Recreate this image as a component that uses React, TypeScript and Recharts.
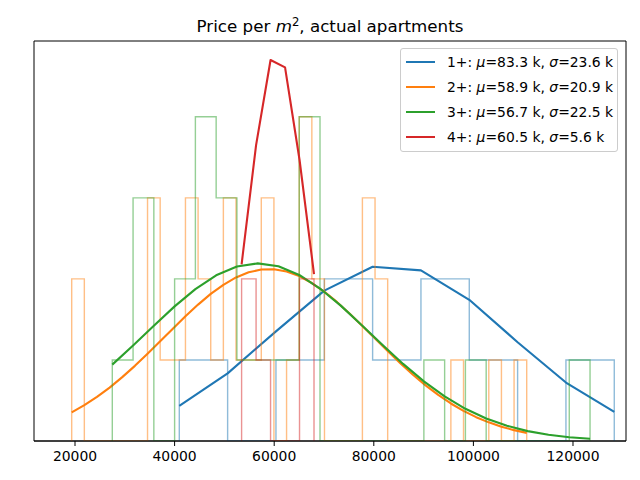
import React from 'react';
import { ComposedChart, Line, XAxis, YAxis, ReferenceArea } from 'recharts';

// x range of the axes (price per m2) and y range (histogram counts)
const X_MIN = 11767;
const X_MAX = 130643;
const Y_MAX = 4.935;
const xTicks = [20000, 40000, 60000, 80000, 100000, 120000];

// 1+ apartments
const blueEdges = [40943, 50648, 60353, 70058, 79763, 89468, 99173, 108878, 118583, 128288];
const blueCounts = [1, 0, 1, 2, 1, 2, 1, 0, 1];
const blueCurve = [0.434, 0.834, 1.353, 1.855, 2.149, 2.105, 1.742, 1.219, 0.721, 0.36];

// 2+ apartments
const orangeEdges = [
  19337, 21875, 24413, 26951, 29489, 32027, 34565, 37103, 39641, 42179, 44717, 47255, 49793,
  52331, 54869, 57407, 59945, 62483, 65021, 67559, 70097, 72635, 75173, 77711, 80249, 82787,
  85325, 87863, 90401, 92939, 95477, 98015, 100553, 103091, 105629, 108167, 110705,
];
const orangeCounts = [
  2, 0, 0, 0, 0, 0, 3, 1, 1, 3, 2, 1, 3, 1, 1, 3, 0, 1, 4, 2, 0, 0, 0, 3, 2, 0, 0, 0, 0, 0, 1, 0,
  0, 1, 0, 1,
];
const orangeCurve = [
  0.354, 0.442, 0.544, 0.659, 0.788, 0.927, 1.076, 1.23, 1.386, 1.539, 1.683, 1.815, 1.927,
  2.018, 2.081, 2.115, 2.119, 2.091, 2.034, 1.949, 1.841, 1.713, 1.571, 1.42, 1.264, 1.109,
  0.959, 0.817, 0.686, 0.568, 0.463, 0.372, 0.294, 0.23, 0.177, 0.134, 0.1,
];

// 3+ apartments
const greenEdges = [
  27489, 31660, 35831, 40002, 44173, 48344, 52515, 56686, 60857, 65028, 69199, 73370, 77541,
  81712, 85883, 90054, 94225, 98396, 102567, 106738, 110909, 115080, 119251, 123422,
];
const greenCounts = [1, 3, 0, 2, 4, 3, 1, 1, 1, 4, 0, 0, 0, 0, 0, 1, 0, 1, 0, 0, 0, 0, 1];
const greenCurve = [
  0.942, 1.178, 1.422, 1.661, 1.874, 2.044, 2.152, 2.191, 2.155, 2.049, 1.881, 1.67, 1.432,
  1.187, 0.951, 0.735, 0.551, 0.397, 0.277, 0.188, 0.122, 0.077, 0.047, 0.028,
];

// 4+ apartments
const redEdges = [53454, 56362, 59270, 62178, 65086, 67994];
const redCounts = [2, 1, 0, 0, 2];
const redCurve = [2.18, 3.65, 4.7, 4.61, 3.47, 2.06];

const groupNames = ['1+', '2+', '3+', '4+'];
const groupMu = ['83.3', '58.9', '56.7', '60.5'];
const groupSigma = ['23.6', '20.9', '22.5', '5.6'];
const colors = ['#1f77b4', '#ff7f0e', '#2ca02c', '#d62728'];

const FONT = '"DejaVu Sans", sans-serif';

// outline of a step histogram (no bottom edge, like histtype="step")
function stepOutline(edges: number[], counts: number[]) {
  const pts = [{ x: edges[0], y: 0 }];
  counts.forEach((c, i) => {
    pts.push({ x: edges[i], y: c });
    pts.push({ x: edges[i + 1], y: c });
  });
  pts.push({ x: edges[edges.length - 1], y: 0 });
  return pts;
}

function curvePoints(edges: number[], values: number[]) {
  return edges.map((x, i) => ({ x, y: values[i] }));
}

const groups = [
  { edges: blueEdges, counts: blueCounts, curve: blueCurve },
  { edges: orangeEdges, counts: orangeCounts, curve: orangeCurve },
  { edges: greenEdges, counts: greenCounts, curve: greenCurve },
  { edges: redEdges, counts: redCounts, curve: redCurve },
];

function ChartLegend() {
  return (
    <div
      style={{
        position: 'absolute',
        left: 400,
        top: 48,
        width: 216,
        padding: '0 0 2px 0',
        border: '1px solid #cccccc',
        borderRadius: 3,
        background: 'rgba(255,255,255,0.8)',
        fontFamily: FONT,
        fontSize: 13.9,
        color: '#000',
      }}
    >
      {groupNames.map((name, i) => (
        <div key={name} style={{ height: 25, display: 'flex', alignItems: 'center' }}>
          <div
            style={{ marginLeft: 5, width: 29, height: 2, background: colors[i], flex: 'none' }}
          />
          <span style={{ marginLeft: 12, whiteSpace: 'nowrap' }}>
            {name}: <i>μ</i>={groupMu[i]} k, <i>σ</i>={groupSigma[i]} k
          </span>
        </div>
      ))}
    </div>
  );
}

export default function App() {
  return (
    <div
      style={{
        position: 'absolute',
        left: 0,
        top: 0,
        width: 640,
        height: 480,
        background: '#fff',
      }}
    >
      <div
        style={{
          position: 'absolute',
          left: 34,
          top: 16,
          width: 592,
          textAlign: 'center',
          fontFamily: FONT,
          fontSize: 16.7,
          lineHeight: '20px',
          color: '#000',
          whiteSpace: 'nowrap',
        }}
      >
        Price per <i>m</i>
        <sup style={{ fontSize: '0.7em', verticalAlign: '0.55em', lineHeight: 0 }}>2</sup>,
        actual apartments
      </div>
      <ComposedChart
        width={640}
        height={480}
        margin={{ top: 41, right: 14, bottom: 0, left: 34 }}
      >
        <XAxis
          dataKey="x"
          type="number"
          domain={[X_MIN, X_MAX]}
          ticks={xTicks}
          interval={0}
          allowDataOverflow
          height={39}
          tickSize={5}
          tickMargin={5}
          axisLine={{ stroke: '#000' }}
          tickLine={{ stroke: '#000' }}
          tick={{ fill: '#000', fontSize: 13.9, fontFamily: FONT }}
        />
        <YAxis type="number" domain={[0, Y_MAX]} allowDataOverflow hide />
        {groups.map((g, i) => [
          <Line
            key={`hist-${i}`}
            data={stepOutline(g.edges, g.counts)}
            dataKey="y"
            type="linear"
            stroke={colors[i]}
            strokeOpacity={0.5}
            strokeWidth={1.4}
            dot={false}
            activeDot={false}
            isAnimationActive={false}
          />,
          <Line
            key={`curve-${i}`}
            data={curvePoints(g.edges, g.curve)}
            dataKey="y"
            type="linear"
            stroke={colors[i]}
            strokeWidth={2.1}
            strokeLinejoin="round"
            dot={false}
            activeDot={false}
            isAnimationActive={false}
          />,
        ])}
        <ReferenceArea
          x1={X_MIN}
          x2={X_MAX}
          y1={0}
          y2={Y_MAX}
          fill="none"
          stroke="#000"
          strokeWidth={1}
        />
      </ComposedChart>
      <ChartLegend />
    </div>
  );
}
